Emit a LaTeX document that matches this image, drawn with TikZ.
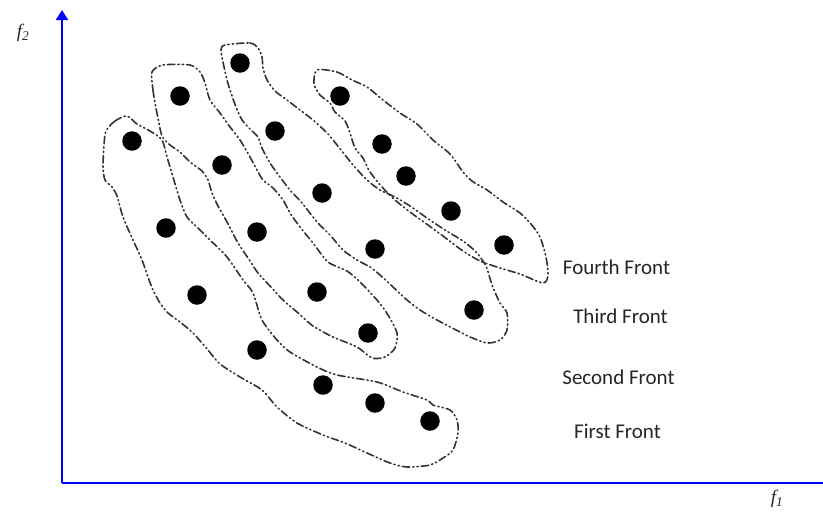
\documentclass[tikz,border=0pt]{standalone}
\usepackage{fontspec}
\setmainfont{Liberation Serif}
\newfontfamily\labelfont{Carlito}
\usetikzlibrary{arrows.meta}
\tikzset{
  front/.style={draw=black!80, line width=1.6pt, line cap=round,
    dash pattern=on 7.5pt off 3pt on 1.3pt off 3pt on 1.3pt off 3pt},
  ptdot/.style={circle, fill=black, inner sep=0pt, minimum size=19.5pt},
  axis/.style={draw=blue, line width=2pt, -{Triangle[width=12pt,length=10pt]}},
  frontlabel/.style={font=\labelfont\fontsize{21}{25}\selectfont, text=black!85, anchor=base, inner sep=0pt},
  axlabel/.style={font=\fontsize{19}{22}\selectfont\itshape, text=black!85, inner sep=0pt},
}
\begin{document}
\begin{tikzpicture}[x=1pt,y=-1pt]
\useasboundingbox (0,0) rectangle (823,512);
\fill[white] (0,0) rectangle (823,512);

% axes
\coordinate (O) at (62,483);
\coordinate (ytip) at (62,10);
\coordinate (xtip) at (833,483);
\draw[axis] (O) -- (ytip);
\draw[axis] (O) -- (xtip);
\node[axlabel] (f2) at (23,33) {f\textsubscript{2}};
\node[axlabel] (f1) at (777,499) {f\textsubscript{1}};

% first front
\draw[front] plot[smooth cycle, tension=0.45] coordinates {
(127,116) (115,121) (106,131) (104,145) (103,167) (105,180) (112,187) (117,196)
(123,217) (133,240) (142,260) (148,277) (153,290) (160,303) (168,313) (180,322)
(193,333) (208,350) (220,364) (240,377) (262,390) (277,407) (297,423) (323,435)
(345,443) (367,453) (390,463) (407,467) (430,465) (443,458) (453,450) (458,433)
(457,420) (450,410) (433,405) (427,400) (403,392) (377,382) (337,375) (317,367)
(290,352) (277,340) (262,320) (253,293) (243,280) (227,257) (210,240) (200,230)
(187,217) (180,200) (173,177) (167,157) (162,140) (150,131) (137,124)};

% second front
\draw[front] plot[smooth cycle, tension=0.45] coordinates {
(152,72) (153,90) (155,103) (158,118) (162,136) (170,145) (180,152) (190,162)
(202,171) (208,180) (212,193) (218,206) (227,222) (238,243) (248,258) (258,273)
(270,286) (283,300) (297,312) (313,326) (333,337) (357,347) (372,358) (385,357)
(395,348) (397,333) (388,315) (377,300) (360,282) (347,271) (328,262) (313,243)
(300,227) (290,213) (283,200) (273,188) (263,180) (257,170) (250,157) (240,140)
(230,127) (220,113) (210,100) (205,83) (200,72) (190,65) (163,65)};

% third front
\draw[front] plot[smooth cycle, tension=0.45] coordinates {
(225,45) (250,43) (258,48) (262,57) (263,68) (267,80) (275,91) (287,100)
(300,110) (313,120) (328,134) (341,150) (353,165) (367,180) (380,190) (395,197)
(410,206) (427,218) (445,230) (463,241) (476,252) (486,266) (492,285) (500,303)
(507,313) (507,330) (500,340) (487,343) (470,337) (460,332) (437,320) (420,310)
(407,300) (393,287) (380,275) (370,267) (357,260) (343,250) (330,235) (317,222)
(302,203) (290,190) (280,177) (270,163) (262,148) (258,137) (250,129) (242,120)
(236,107) (231,93) (227,80) (223,62) (221,50)};

% fourth front
\draw[front] plot[smooth cycle, tension=0.45] coordinates {
(317,70) (337,72) (352,80) (367,87) (383,100) (400,113) (417,124) (433,140)
(450,154) (463,172) (472,181) (487,190) (503,202) (520,213) (531,224) (540,237)
(546,257) (548,275) (543,283) (520,274) (500,268) (480,261) (463,251) (447,239)
(428,225) (410,212) (395,200) (382,187) (370,172) (363,158) (355,148) (350,133)
(345,121) (335,112) (330,103) (320,95) (314,84)};

% points
\node[ptdot] (a1) at (132,141) {};
\node[ptdot] (a2) at (166,228) {};
\node[ptdot] (a3) at (197,295) {};
\node[ptdot] (a4) at (257,350) {};
\node[ptdot] (a5) at (323,385) {};
\node[ptdot] (a6) at (375,403) {};
\node[ptdot] (a7) at (430,421) {};

\node[ptdot] (b1) at (180,96) {};
\node[ptdot] (b2) at (222,165) {};
\node[ptdot] (b3) at (257,232) {};
\node[ptdot] (b4) at (317,292) {};
\node[ptdot] (b5) at (368,333) {};

\node[ptdot] (c1) at (240,63) {};
\node[ptdot] (c2) at (275,131) {};
\node[ptdot] (c3) at (322,193) {};
\node[ptdot] (c4) at (375,249) {};
\node[ptdot] (c5) at (474,310) {};

\node[ptdot] (d1) at (340,96) {};
\node[ptdot] (d2) at (382,144) {};
\node[ptdot] (d3) at (406,176) {};
\node[ptdot] (d4) at (451,211) {};
\node[ptdot] (d5) at (504,245) {};

% labels
\node[frontlabel] (l4) at (616.5,274) {Fourth Front};
\node[frontlabel] (l3) at (620.5,323) {Third Front};
\node[frontlabel] (l2) at (618.5,384) {Second Front};
\node[frontlabel] (l1) at (617.5,438) {First Front};
\end{tikzpicture}
\end{document}
